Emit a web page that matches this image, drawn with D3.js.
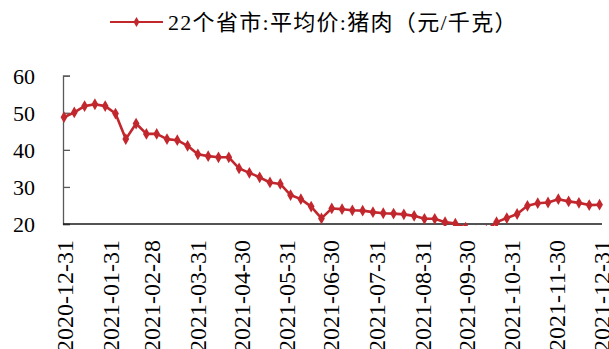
<!DOCTYPE html>
<html>
<head>
<meta charset="utf-8">
<script src="https://cdn.jsdelivr.net/npm/d3@7/dist/d3.min.js"></script>
<style>
  html, body { margin: 0; padding: 0; background: #fff; }
  svg { display: block; }
</style>
</head>
<body>
<div id="chart"></div>
<script>
// Weekly average retail pork price across 22 provinces (yuan/kg)
const seriesName = "22个省市:平均价:猪肉（元/千克）";
const startDate = "2020-12-31";
const priceValues = [
  48.8, 50.1, 51.8, 52.3, 51.8, 49.8, 42.9, 47.1, 44.3, 44.3,
  42.9, 42.6, 41.1, 38.8, 38.3, 38.0, 38.0, 35.0, 33.8, 32.6,
  31.2, 30.8, 27.8, 26.7, 24.7, 21.5, 24.2, 24.0, 23.7, 23.6,
  23.2, 22.9, 22.8, 22.6, 22.2, 21.4, 21.4, 20.5, 20.1, 19.0,
  18.0, 18.2, 20.5, 21.6, 22.7, 24.9, 25.6, 25.8, 26.7, 26.1,
  25.7, 25.1, 25.2
];
const tickDates = [
  "2020-12-31", "2021-01-31", "2021-02-28", "2021-03-31", "2021-04-30",
  "2021-05-31", "2021-06-30", "2021-07-31", "2021-08-31", "2021-09-30",
  "2021-10-31", "2021-11-30", "2021-12-31"
];
const yTicks = [20, 30, 40, 50, 60];

const W = 609, H = 349;
const parse = d3.timeParse("%Y-%m-%d");
const fmt = d3.timeFormat("%Y-%m-%d");
const t0 = parse(startDate);
const data = priceValues.map((v, i) => ({ date: d3.timeDay.offset(t0, 7 * i), value: v }));

const svg = d3.select("#chart").append("svg").attr("width", W).attr("height", H);

const x = d3.scaleTime()
  .domain([parse(tickDates[0]), parse(tickDates[tickDates.length - 1])])
  .range([64, 601]);
const y = d3.scaleLinear().domain([20, 60]).range([224, 75.7]);

const color = "#C1272D";
const serif = "Liberation Serif, Times New Roman, serif";

// Y axis: ticks point inward, labels on the left
const yAxis = svg.append("g").attr("transform", "translate(63,0)")
  .call(d3.axisRight(y).tickValues(yTicks).tickSize(7).tickFormat(d3.format("d")));
yAxis.attr("font-family", serif).attr("font-size", 22);
yAxis.select(".domain").attr("stroke", "#595959").attr("stroke-width", 1.3);
yAxis.selectAll(".tick line").attr("stroke", "#595959").attr("stroke-width", 1.3);
yAxis.selectAll(".tick text")
  .attr("x", -28).attr("text-anchor", "end").attr("dy", "0.35em").attr("fill", "#000");

// X axis: plain baseline with rotated date labels
const xAxis = svg.append("g").attr("transform", "translate(0,224)")
  .call(d3.axisBottom(x).tickValues(tickDates.map(parse)).tickSize(0).tickFormat(fmt));
xAxis.attr("font-family", serif).attr("font-size", 24);
xAxis.select(".domain").attr("stroke", "#1a1a1a").attr("stroke-width", 1.3)
  .attr("d", "M63,0H602");
xAxis.selectAll(".tick text")
  .attr("transform", "rotate(-90)")
  .attr("x", -16).attr("y", 0).attr("dy", "0.36em")
  .attr("text-anchor", "end").attr("fill", "#000");

// Series, clipped just below the x axis
svg.append("clipPath").attr("id", "plotClip")
  .append("rect").attr("x", 55).attr("y", 60).attr("width", 554).attr("height", 166);
const g = svg.append("g").attr("clip-path", "url(#plotClip)");

g.append("path").datum(data)
  .attr("fill", "none").attr("stroke", color).attr("stroke-width", 2.6)
  .attr("stroke-linejoin", "round")
  .attr("d", d3.line().x(d => x(d.date)).y(d => y(d.value)));

const diamond = d3.symbol().type(d3.symbolDiamond).size(40);
g.selectAll("path.pt").data(data).join("path")
  .attr("class", "pt")
  .attr("transform", d => `translate(${x(d.date)},${y(d.value)})`)
  .attr("d", diamond).attr("fill", color);

// Legend
const lg = svg.append("g");
lg.append("line").attr("x1", 110).attr("x2", 163).attr("y1", 22).attr("y2", 22)
  .attr("stroke", color).attr("stroke-width", 2.2);
lg.append("path").attr("transform", "translate(136.5,22)")
  .attr("d", d3.symbol().type(d3.symbolDiamond).size(30)).attr("fill", color);
lg.append("text").attr("x", 168).attr("y", 22).attr("dy", "0.35em")
  .attr("font-family", serif + ", Noto Sans CJK SC").attr("font-size", 22)
  .attr("letter-spacing", 1.3).attr("fill", "#000")
  .text(seriesName);
</script>
</body>
</html>
